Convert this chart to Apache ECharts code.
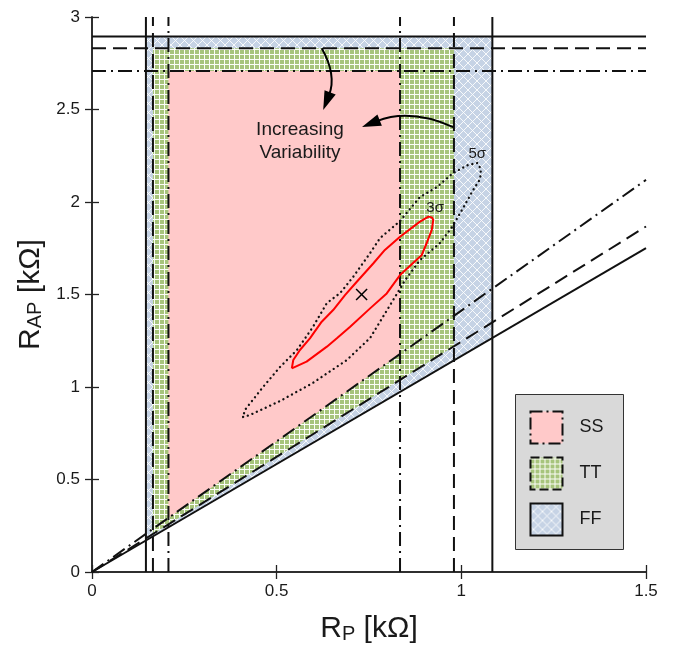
<!DOCTYPE html>
<html><head><meta charset="utf-8">
<script src="https://cdn.jsdelivr.net/npm/echarts@6/dist/echarts.min.js"></script>
<style>html,body{margin:0;padding:0;background:#fff}#c{width:674px;height:645px}</style>
</head><body><div id="c"></div>
<script>
// ---- data ----
const xTicks = [0, 0.5, 1, 1.5];
const yTicks = [0, 0.5, 1, 1.5, 2, 2.5, 3];

// corner regions: [xMin, xMax, yMax, slope of lower diagonal]
const ffRegion = [0.146, 1.084, 2.894, 1.167];
const ttRegion = [0.165, 0.980, 2.831, 1.245];
const ssRegion = [0.207, 0.834, 2.708, 1.413];
const regionNames = ['SS', 'TT', 'FF'];

// 3-sigma contour
const sigma3X = [0.541,0.545,0.563,0.590,0.622,0.653,0.685,0.717,0.762,0.793,0.834,0.888,0.911,0.920,0.924,0.920,0.906,0.893,0.834,0.798,0.753,0.699,0.663,0.636,0.581,0.541];
const sigma3Y = [1.101,1.146,1.200,1.263,1.353,1.416,1.497,1.569,1.669,1.741,1.812,1.894,1.921,1.917,1.903,1.849,1.777,1.714,1.605,1.506,1.425,1.326,1.263,1.218,1.137,1.101];
// 5-sigma contour
const sigma5X = [0.409,0.428,0.509,0.598,0.690,0.753,0.799,0.848,0.888,0.942,0.975,1.005,1.032,1.051,1.053,1.043,1.018,0.978,0.934,0.888,0.834,0.780,0.753,0.707,0.672,0.636,0.598,0.555,0.509,0.463,0.414,0.409];
const sigma5Y = [0.838,0.849,0.924,1.022,1.146,1.265,1.416,1.578,1.686,1.778,1.865,1.968,2.065,2.124,2.178,2.211,2.200,2.157,2.081,2.027,1.897,1.805,1.724,1.595,1.508,1.454,1.324,1.200,1.108,1.000,0.876,0.838];
const meanPoint = [0.73, 1.50];

// annotations (data coords): start, control, end
const arrowDown = [[0.622, 2.831], [0.663, 2.686], [0.626, 2.497]];
const arrowLeft = [[0.978, 2.405], [0.861, 2.508], [0.731, 2.405]];
const annotText = 'Increasing\nVariability';
const annotPos = [0.563, 2.327];
const sigma5Label = ['5σ', 1.043, 2.259];
const sigma3Label = ['3σ', 0.929, 1.968];

// ---- styles ----
const FONT = '"Liberation Sans", Arial, sans-serif';
const INK = '#1a1a1a';
const DASH = [14, 7];
const DASHDOT = [14, 5, 2, 5];
const LW = 2;

function gridPattern() {
  const p = 5;
  const c = document.createElement('canvas'); c.width = p; c.height = p;
  const g = c.getContext('2d');
  g.fillStyle = '#fbfdf7'; g.fillRect(0, 0, p, p);
  g.fillStyle = '#a7c47c'; g.fillRect(0, 0, 4, 4);
  return c;
}
function crossPattern() {
  const p = 9;
  const c = document.createElement('canvas'); c.width = p; c.height = p;
  const g = c.getContext('2d');
  g.fillStyle = '#c6d3e5'; g.fillRect(0, 0, p, p);
  g.strokeStyle = 'rgba(255,255,255,0.85)'; g.lineWidth = 1;
  g.beginPath();
  g.moveTo(-1, -1); g.lineTo(p + 1, p + 1);
  g.moveTo(p + 1, -1); g.lineTo(-1, p + 1);
  g.stroke();
  return c;
}
const fills = {
  SS: '#ffc9c9',
  TT: { image: gridPattern(), repeat: 'repeat' },
  FF: { image: crossPattern(), repeat: 'repeat' }
};
const borders = { SS: DASHDOT, TT: DASH, FF: 'solid' };
const regionsDrawOrder = [['FF', ffRegion], ['TT', ttRegion], ['SS', ssRegion]];

// ---- series ----
const series = [];
series.push({
  type: 'custom', coordinateSystem: 'cartesian2d', silent: true, z: 1,
  data: [[0, 0]],
  renderItem: (params, api) => ({
    type: 'group',
    children: regionsDrawOrder.map(([name, r]) => {
      const [x0, x1, yTop, k] = r;
      const pts = [[x0, k * x0], [x0, yTop], [x1, yTop], [x1, k * x1]].map(p => api.coord(p));
      return { type: 'polygon', shape: { points: pts }, style: { fill: fills[name], stroke: null } };
    })
  })
});

regionsDrawOrder.forEach(([name, r]) => {
  const [x0, x1, yTop, k] = r;
  const segs = [
    [[x0, 0], [x0, 3]],
    [[x1, 0], [x1, 3]],
    [[0, yTop], [1.5, yTop]],
    [[0, 0], [1.5, k * 1.5]]
  ];
  segs.forEach(s => series.push({
    type: 'line', data: s, symbol: 'none', silent: true, z: 3, animation: false,
    lineStyle: { color: '#111', width: LW, type: borders[name] }
  }));
});

series.push({
  type: 'line', data: sigma5X.map((x, i) => [x, sigma5Y[i]]), symbol: 'none', silent: true, z: 4,
  lineStyle: { color: '#111', width: 2.3, type: [0.1, 4.8], cap: 'round' }
});
series.push({
  type: 'line', data: sigma3X.map((x, i) => [x, sigma3Y[i]]), symbol: 'none', silent: true, z: 4,
  lineStyle: { color: '#ff0000', width: 2, type: 'solid' }
});

function arrowShapes(a, api) {
  const s = api.coord(a[0]), c = api.coord(a[1]), t = api.coord(a[2]);
  let dx = t[0] - c[0], dy = t[1] - c[1];
  const len = Math.hypot(dx, dy); dx /= len; dy /= len;
  const L = 19, W = 6;
  const b = [t[0] - dx * L, t[1] - dy * L];
  const n = [-dy, dx];
  return [
    { type: 'bezierCurve', shape: { x1: s[0], y1: s[1], cpx1: c[0], cpy1: c[1], x2: b[0] + dx * 3, y2: b[1] + dy * 3 },
      style: { stroke: '#000', lineWidth: 2, fill: null } },
    { type: 'polygon', shape: { points: [t, [b[0] + n[0] * W, b[1] + n[1] * W], [b[0] - n[0] * W, b[1] - n[1] * W]] },
      style: { fill: '#000' } }
  ];
}

series.push({
  type: 'custom', coordinateSystem: 'cartesian2d', silent: true, z: 6,
  data: [[0, 0]],
  renderItem: (params, api) => {
    const m = api.coord(meanPoint);
    const h = 5.5;
    const p = api.coord(annotPos);
    const l5 = api.coord([sigma5Label[1], sigma5Label[2]]);
    const l3 = api.coord([sigma3Label[1], sigma3Label[2]]);
    return {
      type: 'group',
      children: [
        { type: 'line', shape: { x1: m[0] - h, y1: m[1] - h, x2: m[0] + h, y2: m[1] + h }, style: { stroke: '#000', lineWidth: 1.5 } },
        { type: 'line', shape: { x1: m[0] - h, y1: m[1] + h, x2: m[0] + h, y2: m[1] - h }, style: { stroke: '#000', lineWidth: 1.5 } },
        ...arrowShapes(arrowDown, api),
        ...arrowShapes(arrowLeft, api),
        { type: 'text', style: { text: annotText, x: p[0], y: p[1], align: 'center', verticalAlign: 'middle', font: '19px ' + FONT, lineHeight: 23, fill: INK } },
        { type: 'text', style: { text: sigma5Label[0], x: l5[0], y: l5[1], align: 'center', verticalAlign: 'middle', font: '15px ' + FONT, fill: INK } },
        { type: 'text', style: { text: sigma3Label[0], x: l3[0], y: l3[1], align: 'center', verticalAlign: 'middle', font: '15px ' + FONT, fill: INK } }
      ]
    };
  }
});

// ---- legend (graphic) ----
const legendChildren = [
  { type: 'rect', shape: { x: 0, y: 0, width: 108, height: 155 }, style: { fill: '#d9d9d9', stroke: '#333', lineWidth: 1 } }
];
regionNames.forEach((name, i) => {
  const y = 17 + i * 46;
  legendChildren.push({
    type: 'rect', shape: { x: 15, y: y, width: 32, height: 32 },
    style: { fill: fills[name], stroke: '#111', lineWidth: 2, lineDash: name === 'SS' ? [12, 4, 2, 4] : (name === 'TT' ? [9, 4] : null) }
  });
  legendChildren.push({
    type: 'text', style: { text: name, x: 64, y: y + 16, verticalAlign: 'middle', font: '18px ' + FONT, fill: INK }
  });
});

const axisCommon = {
  type: 'value',
  axisLine: { show: true, lineStyle: { color: '#222', width: 1.5 } },
  axisTick: { show: true, inside: true, length: 7, lineStyle: { color: '#222', width: 1.3 } },
  splitLine: { show: false }
};
const titleRich = {
  r: { fontSize: 30, fontFamily: FONT, color: INK, verticalAlign: 'bottom', lineHeight: 36 },
  s: { fontSize: 20, fontFamily: FONT, color: INK, verticalAlign: 'bottom', lineHeight: 26 }
};

const chart = echarts.init(document.getElementById('c'), null, { renderer: 'canvas' });
chart.setOption({
  animation: false,
  backgroundColor: '#fff',
  grid: { left: 92, right: 28, top: 17, bottom: 73, containLabel: false, outerBoundsMode: 'none' },
  xAxis: [
    Object.assign({}, axisCommon, {
      min: xTicks[0], max: xTicks[xTicks.length - 1], interval: xTicks[1] - xTicks[0], position: 'bottom',
      axisLabel: { fontSize: 17, color: INK, fontFamily: FONT, margin: 11 },
      name: '{r|R}{s|P}{r| [kΩ]}', nameLocation: 'middle', nameGap: 36,
      nameTextStyle: { rich: titleRich }
    }),
    Object.assign({}, axisCommon, {
      min: xTicks[0], max: xTicks[xTicks.length - 1], interval: xTicks[1] - xTicks[0], position: 'top',
      axisLabel: { show: false }
    })
  ],
  yAxis: [
    Object.assign({}, axisCommon, {
      min: yTicks[0], max: yTicks[yTicks.length - 1], interval: yTicks[1] - yTicks[0], position: 'left',
      axisLabel: { fontSize: 17, color: INK, fontFamily: FONT, margin: 12 },
      name: '{r|R}{s|AP}{r| [kΩ]}', nameLocation: 'middle', nameGap: 42, nameRotate: 90,
      nameTextStyle: { rich: titleRich }
    }),
    Object.assign({}, axisCommon, {
      min: yTicks[0], max: yTicks[yTicks.length - 1], interval: yTicks[1] - yTicks[0], position: 'right',
      axisLabel: { show: false }
    })
  ],
  graphic: [{ type: 'group', left: 515, top: 394, children: legendChildren }],
  series: series
});
</script></body></html>
